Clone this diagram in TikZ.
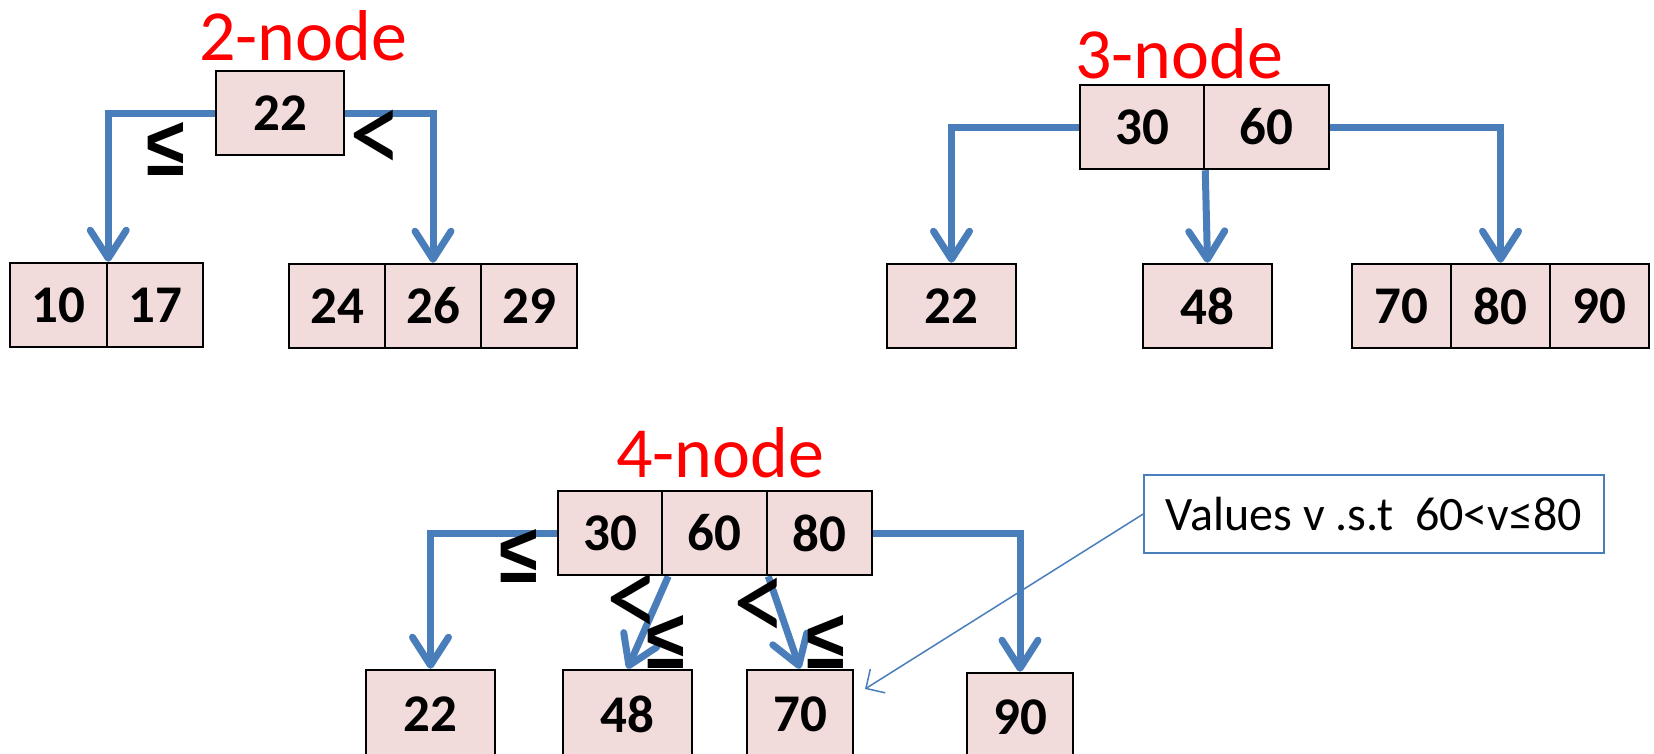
\documentclass[tikz,border=0pt]{standalone}
\usepackage{fontspec}
\setmainfont{Carlito}
\newfontfamily\relfont{Liberation Sans}
\usetikzlibrary{arrows.meta,calc,backgrounds}
\definecolor{cellfill}{HTML}{F2DCDB}
\definecolor{linkblue}{HTML}{4A7EBB}
\definecolor{titlered}{HTML}{FF0000}
\newcommand{\relle}{{\relfont\bfseries\scalebox{0.86}[1.02]{≤}}}
\newcommand{\rellt}{\scalebox{1.3}[1.5]{<}}
\tikzset{
  cell/.style={draw=black, line width=2.5pt, fill=cellfill, minimum height=84pt, inner sep=0pt,
    font=\fontsize{53}{60}\selectfont\bfseries},
  lowcell/.style={cell, minimum height=88pt},
  link/.style={draw=linkblue, line width=7pt, -{Straight Barb[length=28pt,width=36pt,round]}},
  title/.style={text=titlered, anchor=base, inner sep=0pt, font=\fontsize{72}{80}\selectfont},
  rel/.style={inner sep=0pt, font=\fontsize{82}{90}\selectfont},
  note/.style={draw=linkblue, line width=1.5pt, fill=white, minimum width=460pt, minimum height=78pt,
    inner sep=0pt, font=\fontsize{48}{54}\selectfont},
  notelink/.style={draw=linkblue, line width=1.5pt, -{Straight Barb[length=14pt,width=28pt]}}
}
\begin{document}
\begin{tikzpicture}[x=1pt,y=-1pt]
\useasboundingbox (0,0) rectangle (1654,753);
% ---- 2-node ----
\node[title] (h2) at (303,60) {2-node};
\node[cell, minimum width=128pt] (t22) at (280,113) {22};
\node[cell, minimum width=97pt] (c10) at (58.5,305) {10};
\node[cell, minimum width=96pt] (c17) at (155,305) {17};
\node[cell, minimum width=96pt] (c24) at (337,306) {24};
\node[cell, minimum width=96pt] (c26) at (433,306) {26};
\node[cell, minimum width=96pt] (c29) at (529,306) {29};
\node[rel] (r1) at (165.5,148.5) {\relle};
\node[rel] (r2) at (376.5,142.5) {\rellt};
% ---- 3-node ----
\node[title] (h3) at (1179,78) {3-node};
\node[cell, minimum width=124pt] (a30) at (1142,127) {30};
\node[cell, minimum width=125pt] (a60) at (1266.5,127) {60};
\node[cell, minimum width=129pt] (b22) at (951.5,306) {22};
\node[cell, minimum width=129pt] (b48) at (1207.5,306) {48};
\node[cell, minimum width=99pt] (b70) at (1401.5,306) {70};
\node[cell, minimum width=99pt] (b80) at (1500.5,306) {80};
\node[cell, minimum width=99pt] (b90) at (1599.5,306) {90};
% ---- 4-node ----
\node[title] (h4) at (720,477) {4-node};
\node[cell, minimum width=104pt] (d30) at (610,533) {30};
\node[cell, minimum width=105pt] (d60) at (714.5,533) {60};
\node[cell, minimum width=105pt] (d80) at (819.5,533) {80};
\node[lowcell, minimum width=129pt] (e22) at (430.5,714) {22};
\node[lowcell, minimum width=129pt] (e48) at (627.5,714) {48};
\node[lowcell, minimum width=106pt] (e70) at (800,714) {70};
\node[lowcell, minimum width=106pt] (e90) at (1020,717) {90};
% ---- callout ----
\node[note] (cnote) at (1374,514) {Values v .s.t\ \ 60<v≤80};
\coordinate (ctip) at (865,689);
\begin{scope}[on background layer]
\draw[link] (t22.west) -| (c10.north east);
\draw[link] (t22.east) -| (c26.north);
\draw[link] (a30.west) -| (b22.north);
\draw[link] (a30.south east) -- (b48.north);
\draw[link] (a60.east) -| (b80.north);
\draw[link] (d30.west) -| (e22.north);
\draw[link] ($(d30.south east)+(5,0)$) -- (e48.north);
\draw[link] (d60.south east) -- (e70.north);
\draw[link] (d80.east) -| (e90.north);
\end{scope}
\draw[notelink] (cnote.west) -- (ctip);
\node[rel] (r3) at (519,556) {\relle};
\node[rel] (r4) at (633.5,606) {\rellt};
\node[rel] (r5) at (665.5,641.5) {\relle};
\node[rel] (r6) at (760.5,610) {\rellt};
\node[rel] (r7) at (825.5,641.5) {\relle};
\end{tikzpicture}
\end{document}
